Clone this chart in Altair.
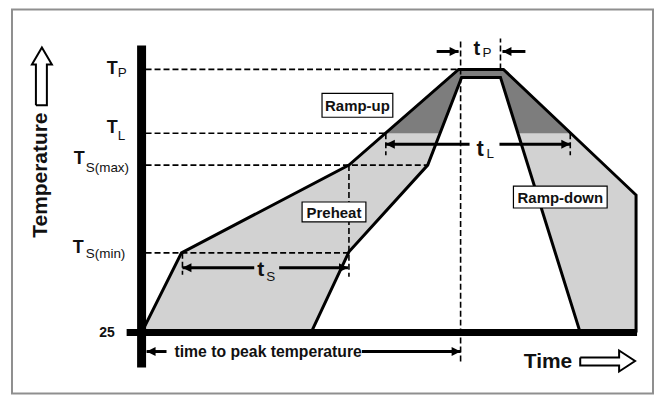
import altair as alt
import pandas as pd

# ---------------- data (schematic units: time t, temperature T) ----------------
BASE, TS_MIN, TS_MAX, T_L, T_P = 25, 105, 193, 225, 289

# outer (upper) reflow profile
outer_t = [0, 40, 208, 318, 363, 496, 496]
outer_T = [25, 105, 193, 289, 289, 163, 25]
# inner (lower) reflow profile
inner_t = [170, 208, 287, 321, 360, 440]
inner_T = [25, 106, 193, 281, 281, 25]
# region above liquidus (T_L)
dark_t = [245, 318, 363, 430, 377, 360, 321, 299]
dark_T = [225, 289, 289, 225, 225, 281, 281, 225]

# dashed guide lines: (t, t2, T, T2)
dash_t = [4, 4, 4, 4, 320, 360, 208, 41, 245, 430]
dash_t2 = [318, 245, 287, 208, 320, 360, 208, 41, 245, 430]
dash_T = [289, 225, 193, 105, -4, 289, 193, 105, 225, 225]
dash_T2 = [289, 225, 193, 105, 320, 320, 81, 83, 203, 203]

# arrow shafts (t, t2, T)
shaft_t = [41, 138, 245, 359, 296, 362, 5, 221]
shaft_t2 = [113, 207, 329, 430, 318, 385, 25, 320]
shaft_T = [90, 90, 214, 214, 307, 307, 6, 6]
# arrow heads: tip position and direction
headL_t = [41, 245, 362, 5]
headL_T = [90, 214, 307, 6]
headR_t = [207, 430, 318, 320]
headR_T = [90, 214, 307, 6]

# hollow axis arrows
uparrow_t = [-106, -95, -95, -90, -100, -110, -106, -106]
uparrow_T = [253, 253, 294, 294, 311, 294, 294, 253]
rarrow_t = [440, 479, 479, 495, 479, 479, 440, 440]
rarrow_T = [0, 0, 7, -3.5, -14, -8, -8, 0]

# labelled boxes
box_text = ["Ramp-up", "Preheat", "Ramp-down"]
box_t = [181, 161, 373]
box_t2 = [252, 225, 467]
box_T = [241, 136, 150]
box_T2 = [265, 156, 172]

# big "T"/"t" symbols and their subscripts
sym_text = ["T", "T", "T", "T", "t", "t", "t"]
sym_t = [-35, -35, -68, -69, 116, 336, 333]
sym_T = [284, 225, 194, 105, 82, 202, 303]
sym_size = [18, 18, 18, 18, 21, 22, 20]
sub_text = ["P", "L", "S(max)", "S(min)", "S", "L", "P"]
sub_t = [-24, -24, -56, -56, 125, 346, 342]
sub_T = [281, 218, 186, 100, 77, 200, 301]

X_DOM = [-134, 514]
Y_DOM = [-37, 350]
FONT = "Liberation Sans"

XS = alt.Scale(domain=X_DOM, nice=False, zero=False)
YS = alt.Scale(domain=Y_DOM, nice=False, zero=False)


def X(f="t"):
    return alt.X(f"{f}:Q", scale=XS, axis=None)


def Y(f="T"):
    return alt.Y(f"{f}:Q", scale=YS, axis=None)


def poly_df(ts, Ts):
    return pd.DataFrame({"t": ts, "T": Ts, "i": list(range(len(ts)))})


# frame
frame = alt.Chart(pd.DataFrame({"t": [-130], "t2": [513], "T": [-36], "T2": [349]})).mark_rect(
    fill="white", stroke="#8f8f8f", strokeWidth=2
).encode(x=X(), x2="t2:Q", y=Y(), y2="T2:Q")

light_df = poly_df(outer_t + inner_t[::-1], outer_T + inner_T[::-1])
light = alt.Chart(light_df).mark_line(fill="#d2d2d2", strokeWidth=0).encode(
    x=X(), y=Y(), order="i:Q")
dark = alt.Chart(poly_df(dark_t, dark_T)).mark_line(fill="#7d7d7d", strokeWidth=0).encode(
    x=X(), y=Y(), order="i:Q")

dashes = alt.Chart(pd.DataFrame({"t": dash_t, "t2": dash_t2, "T": dash_T, "T2": dash_T2})).mark_rule(
    color="black", strokeWidth=1.6, strokeDash=[6, 3]
).encode(x=X(), x2="t2:Q", y=Y(), y2="T2:Q")

outer = alt.Chart(poly_df(outer_t, outer_T)).mark_line(color="black", strokeWidth=3).encode(
    x=X(), y=Y(), order="i:Q")
inner = alt.Chart(poly_df(inner_t, inner_T)).mark_line(color="black", strokeWidth=3).encode(
    x=X(), y=Y(), order="i:Q")

yaxis = alt.Chart(pd.DataFrame({"t": [0], "T": [-10], "T2": [313]})).mark_rule(
    color="black", strokeWidth=9).encode(x=X(), y=Y(), y2="T2:Q")
xaxis = alt.Chart(pd.DataFrame({"t": [-15], "t2": [497], "T": [BASE]})).mark_rule(
    color="black", strokeWidth=7).encode(x=X(), x2="t2:Q", y=Y())

shafts = alt.Chart(pd.DataFrame({"t": shaft_t, "t2": shaft_t2, "T": shaft_T})).mark_rule(
    color="black", strokeWidth=3).encode(x=X(), x2="t2:Q", y=Y())
headsL = alt.Chart(pd.DataFrame({"t": headL_t, "T": headL_T})).mark_point(
    shape="M0,0L1,-0.5L1,0.5Z", filled=True, color="black", size=324, opacity=1).encode(x=X(), y=Y())
headsR = alt.Chart(pd.DataFrame({"t": headR_t, "T": headR_T})).mark_point(
    shape="M0,0L-1,-0.5L-1,0.5Z", filled=True, color="black", size=324, opacity=1).encode(x=X(), y=Y())

up_arrow = alt.Chart(poly_df(uparrow_t, uparrow_T)).mark_line(
    fill="white", stroke="black", strokeWidth=2).encode(x=X(), y=Y(), order="i:Q")
right_arrow = alt.Chart(poly_df(rarrow_t, rarrow_T)).mark_line(
    fill="white", stroke="black", strokeWidth=2).encode(x=X(), y=Y(), order="i:Q")

box_df = pd.DataFrame({"label": box_text, "t": box_t, "t2": box_t2, "T": box_T, "T2": box_T2})
box_df["tc"] = (box_df["t"] + box_df["t2"]) / 2
box_df["Tc"] = (box_df["T"] + box_df["T2"]) / 2
boxes = alt.Chart(box_df).mark_rect(fill="white", stroke="black", strokeWidth=1.2).encode(
    x=X(), x2="t2:Q", y=Y(), y2="T2:Q")
box_labels = alt.Chart(box_df).mark_text(
    font=FONT, fontWeight="bold", fontSize=15, align="center", baseline="middle", color="#111", dy=1
).encode(x=X("tc"), y=Y("Tc"), text="label:N")

syms = alt.Chart(pd.DataFrame({"s": sym_text, "t": sym_t, "T": sym_T, "fs": sym_size})).mark_text(
    font=FONT, fontWeight="bold", align="left", baseline="alphabetic", color="#111"
).encode(x=X(), y=Y(), text="s:N", size=alt.Size("fs:Q", scale=None))
subs = alt.Chart(pd.DataFrame({"s": sub_text, "t": sub_t, "T": sub_T})).mark_text(
    font=FONT, fontSize=13.5, align="left", baseline="alphabetic", color="#111"
).encode(x=X(), y=Y(), text="s:N")

t25 = alt.Chart(pd.DataFrame({"s": ["25"], "t": [-27], "T": [21]})).mark_text(
    font=FONT, fontWeight="bold", fontSize=14, align="right", baseline="alphabetic", color="#111"
).encode(x=X(), y=Y(), text="s:N")
ttp = alt.Chart(pd.DataFrame({"s": ["time to peak temperature"], "t": [33], "T": [1]})).mark_text(
    font=FONT, fontWeight="bold", fontSize=15.8, align="left", baseline="alphabetic", color="#111"
).encode(x=X(), y=Y(), text="s:N")
time_lbl = alt.Chart(pd.DataFrame({"s": ["Time"], "t": [432], "T": [-11]})).mark_text(
    font=FONT, fontWeight="bold", fontSize=21, align="right", baseline="alphabetic", color="#111"
).encode(x=X(), y=Y(), text="s:N")
temp_lbl = alt.Chart(pd.DataFrame({"s": ["Temperature"], "t": [-95], "T": [183]})).mark_text(
    font=FONT, fontWeight="bold", fontSize=21, align="center", baseline="alphabetic", angle=270, color="#111"
).encode(x=X(), y=Y(), text="s:N")

chart = alt.layer(
    frame, light, dark, dashes, outer, inner, yaxis, xaxis, shafts, headsL, headsR,
    up_arrow, right_arrow, boxes, box_labels, syms, subs, t25, ttp, time_lbl, temp_lbl
).properties(
    width=648, height=387, padding=0, autosize=alt.AutoSizeParams(type="none"), background="white"
).configure_view(strokeWidth=0)

chart.save("out.html", embed_options={"renderer": "svg", "actions": False})
